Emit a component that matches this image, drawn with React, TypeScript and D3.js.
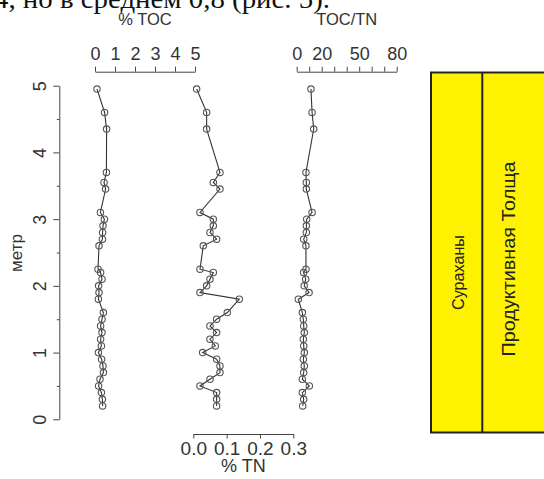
import React, { useEffect, useRef } from 'react'
import * as d3 from 'd3'

// depth below surface, m
const depth = [4.95, 4.6, 4.35, 3.7, 3.55, 3.45, 3.1, 3.0, 2.9, 2.8, 2.7, 2.6, 2.25, 2.2, 2.1, 2.0, 1.9, 1.8, 1.6, 1.5, 1.4, 1.3, 1.2, 1.1, 1.0, 0.9, 0.8, 0.7, 0.6, 0.5, 0.4, 0.3, 0.2]
const toc = [0.10, 0.48, 0.58, 0.57, 0.45, 0.53, 0.27, 0.47, 0.40, 0.38, 0.37, 0.20, 0.15, 0.28, 0.35, 0.18, 0.20, 0.17, 0.42, 0.35, 0.28, 0.35, 0.28, 0.32, 0.17, 0.33, 0.40, 0.42, 0.25, 0.18, 0.32, 0.37, 0.38]
const tn = [0.01, 0.04, 0.04, 0.08, 0.06, 0.08, 0.02, 0.06, 0.06, 0.05, 0.07, 0.03, 0.02, 0.06, 0.05, 0.04, 0.02, 0.138, 0.102, 0.07, 0.05, 0.07, 0.05, 0.066, 0.028, 0.07, 0.08, 0.08, 0.05, 0.02, 0.07, 0.07, 0.07]
const ratio = [11.4, 12.3, 13.6, 7.4, 7.7, 7.7, 12.3, 8.0, 7.7, 7.7, 5.6, 7.4, 7.4, 5.5, 7.2, 6.0, 9.9, 1.3, 4.5, 5.3, 5.6, 6.1, 5.3, 5.6, 6.1, 5.3, 6.1, 5.6, 4.5, 10.1, 4.5, 5.6, 4.8]

const depthTicks = [0, 1, 2, 3, 4, 5]
const depthMinor = [0.5, 1.5, 2.5, 3.5, 4.5]
const tocTicks = [0, 1, 2, 3, 4, 5]
const tnTicks = [0, 0.1, 0.2, 0.3]
const ratioTicks = [0, 10, 20, 30, 40, 50, 60, 70, 80]
const ratioLabels = [0, 20, 50, 80]

const units = ['Сураханы', 'Продуктивная Толща']

const FONT = "'Liberation Sans', Arial, sans-serif"

function App () {
  const ref = useRef<SVGSVGElement>(null)

  useEffect(() => {
    const svg = d3.select(ref.current)
    svg.selectAll('*').remove()

    const y = d3.scaleLinear().domain([0, 5]).range([419.3, 85.7])
    const xToc = d3.scaleLinear().domain([0, 5]).range([95, 195])
    const xTn = d3.scaleLinear().domain([0, 0.3]).range([193.3, 293.3])
    const xRatio = d3.scaleLinear().domain([0, 80]).range([296.7, 396.7])

    // text cut off at the top of the page
    svg.append('text')
      .attr('x', -6)
      .attr('y', 8)
      .attr('font-family', "'Liberation Serif', 'Times New Roman', serif")
      .attr('font-size', 28)
      .attr('textLength', 336)
      .attr('lengthAdjust', 'spacingAndGlyphs')
      .attr('fill', '#111')
      .text('4, но в среднем 0,8 (рис. 5).')

    // depth axis
    const yAxis = svg.append('g').attr('transform', 'translate(59.3,0)')
    yAxis.call(d3.axisLeft(y).tickValues(depthTicks).tickSize(6).tickSizeOuter(0).tickFormat(d3.format('d')))
    yAxis.append('g').call(d3.axisLeft(y).tickValues(depthMinor).tickSize(2.5).tickSizeOuter(0).tickFormat(() => ''))
      .select('.domain').remove()
    yAxis.selectAll('.tick text')
      .attr('x', 0).attr('y', 0).attr('dy', null)
      .attr('text-anchor', 'middle')
      .attr('transform', 'translate(-13.5,0) rotate(-90)')
    svg.append('text')
      .attr('transform', 'translate(22,253) rotate(-90)')
      .attr('text-anchor', 'middle')
      .attr('font-family', FONT)
      .attr('font-size', 17)
      .attr('fill', '#333')
      .text('метр')

    // TOC top axis
    const tocAxis = svg.append('g').attr('transform', 'translate(0,71.7)')
    tocAxis.call(d3.axisTop(xToc).tickValues(tocTicks).tickSize(5).tickSizeOuter(0).tickPadding(7).tickFormat(d3.format('d')))
    svg.append('text')
      .attr('x', (xToc(0) + xToc(5)) / 2)
      .attr('y', 25)
      .attr('text-anchor', 'middle')
      .attr('font-family', FONT)
      .attr('font-size', 16.5)
      .attr('fill', '#333')
      .text('% TOC')

    // TOC/TN top axis
    const ratioAxis = svg.append('g').attr('transform', 'translate(0,71.7)')
    ratioAxis.call(d3.axisTop(xRatio).tickValues(ratioTicks).tickSize(5).tickSizeOuter(0).tickPadding(7)
      .tickFormat(d => ratioLabels.includes(+d) ? String(d) : ''))
    svg.append('text')
      .attr('x', (xRatio(0) + xRatio(80)) / 2)
      .attr('y', 25)
      .attr('text-anchor', 'middle')
      .attr('font-family', FONT)
      .attr('font-size', 16.5)
      .attr('fill', '#333')
      .text('TOC/TN')

    // TN bottom axis
    const tnAxis = svg.append('g').attr('transform', 'translate(0,434)')
    tnAxis.call(d3.axisBottom(xTn).tickValues(tnTicks).tickSize(4.5).tickSizeOuter(0).tickPadding(3).tickFormat(d3.format('.1f')))
    svg.append('text')
      .attr('x', (xTn(0) + xTn(0.3)) / 2)
      .attr('y', 472)
      .attr('text-anchor', 'middle')
      .attr('font-family', FONT)
      .attr('font-size', 18)
      .attr('fill', '#333')
      .text('% TN')

    svg.selectAll('.tick text')
      .attr('font-family', FONT)
      .attr('fill', '#333')
    tocAxis.selectAll('.tick text').attr('font-size', 18)
    ratioAxis.selectAll('.tick text').attr('font-size', 18)
    tnAxis.selectAll('.tick text').attr('font-size', 19)
    yAxis.selectAll('.tick text').attr('font-size', 18)
    svg.selectAll('.domain, .tick line').attr('stroke', '#444')

    // profiles
    const profiles: [number[], d3.ScaleLinear<number, number>][] = [
      [toc, xToc],
      [tn, xTn],
      [ratio, xRatio]
    ]
    profiles.forEach(([vals, x]) => {
      const pts = depth.map((d, i) => [x(vals[i]), y(d)] as [number, number])
      const g = svg.append('g')
      g.append('path')
        .attr('d', d3.line()(pts))
        .attr('fill', 'none')
        .attr('stroke', '#333')
        .attr('stroke-width', 1.1)
      g.selectAll('circle')
        .data(pts)
        .enter()
        .append('circle')
        .attr('cx', d => d[0])
        .attr('cy', d => d[1])
        .attr('r', 3.2)
        .attr('fill', 'none')
        .attr('stroke', '#555')
        .attr('stroke-width', 1.1)
    })

    // stratigraphic column
    const col = svg.append('g')
    col.append('rect')
      .attr('x', 431).attr('y', 72.5)
      .attr('width', 140).attr('height', 360)
      .attr('fill', '#fff200')
      .attr('stroke', '#222')
      .attr('stroke-width', 2)
    col.append('line')
      .attr('x1', 482.3).attr('x2', 482.3)
      .attr('y1', 72.5).attr('y2', 432.5)
      .attr('stroke', '#222')
      .attr('stroke-width', 2)
    col.append('text')
      .attr('transform', 'translate(464,272.5) rotate(-90)')
      .attr('text-anchor', 'middle')
      .attr('font-family', FONT)
      .attr('font-size', 16)
      .attr('textLength', 75)
      .attr('lengthAdjust', 'spacingAndGlyphs')
      .attr('fill', '#222')
      .text(units[0])
    col.append('text')
      .attr('transform', 'translate(515,259) rotate(-90)')
      .attr('text-anchor', 'middle')
      .attr('font-family', FONT)
      .attr('font-size', 18)
      .attr('textLength', 195)
      .attr('lengthAdjust', 'spacingAndGlyphs')
      .attr('fill', '#222')
      .text(units[1])
  }, [])

  return (
    <svg ref={ref} width={544} height={479}
      style={{ position: 'absolute', left: 0, top: 0, background: '#fff' }} />
  )
}

export default App
